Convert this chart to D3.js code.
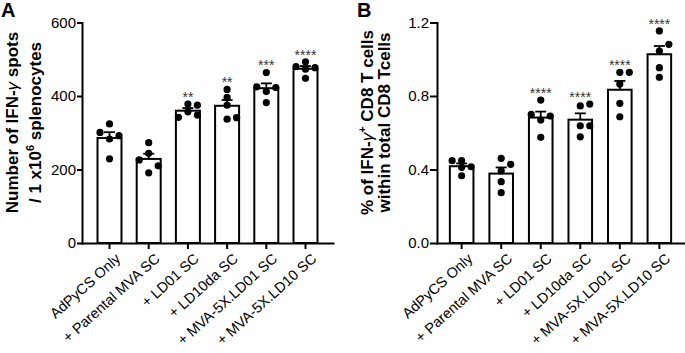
<!DOCTYPE html>
<html>
<head>
<meta charset="utf-8">
<script src="https://cdn.jsdelivr.net/npm/d3@7"></script>
<style>
body { margin: 0; background: #fff; }
text { font-family: "Liberation Sans", Arial, sans-serif; }
</style>
</head>
<body>
<div id="chart-area"></div>
<script>
// groups on the x axis (same for both panels)
var groups = ["AdPyCS Only", "+ Parental MVA SC", "+ LD01 SC", "+ LD10da SC",
              "+ MVA-5X.LD01 SC", "+ MVA-5X.LD10 SC"];

// A: IFN-g spots per 1e6 splenocytes, one value per mouse
var spotsA = [
    [229, 283, 292, 301, 324],
    [191, 210, 244, 226, 273],
    [357, 348, 342, 378, 375],
    [337, 341, 375, 396, 418],
    [382, 412, 423, 425, 464],
    [448, 473, 477, 480, 493]
];

// B: % IFN-g+ CD8 T cells, one value per mouse
var pctB = [
    [0.366, 0.412, 0.415, 0.448, 0.448],
    [0.274, 0.334, 0.392, 0.428, 0.461],
    [0.575, 0.669, 0.691, 0.700, 0.778],
    [0.578, 0.638, 0.638, 0.746, 0.756],
    [0.687, 0.760, 0.865, 0.929, 0.929],
    [0.902, 0.954, 1.045, 1.081, 1.154]
];

var sigA = ["", "", "**", "**", "***", "****"];
var sigB = ["", "", "****", "****", "****", "****"];

var ticksA = [0, 200, 400, 600];
var ticksB = [0, 0.4, 0.8, 1.2];

var width = 685, height = 353;

var svg = d3.select("#chart-area").append("svg")
    .attr("width", width)
    .attr("height", height);

// place the dots of one group side by side when they would overlap
function swarm(vals, y, gap, T) {
    var placed = [];
    return vals.map(function(v) {
        var py = y(v), slots = [0, 1, -1], best = 0, bestD = -1;
        for (var i = 0; i < slots.length; i++) {
            var same = placed.filter((p) => p.s === slots[i]);
            var d = same.length ? d3.min(same, (p) => Math.abs(p.y - py)) : Infinity;
            if (d >= T) { best = slots[i]; break; }
            if (d > bestD) { bestD = d; best = slots[i]; }
        }
        placed.push({ s: best, y: py });
        return { v: v, dx: best * gap };
    });
}

function panel(opt) {
    var g = svg.append("g");
    var x0 = opt.range[0], bottom = 243, top = 22.5;

    var x = d3.scaleBand()
        .domain(groups)
        .range(opt.range)
        .paddingInner(opt.pi)
        .paddingOuter(opt.po);

    var y = d3.scaleLinear()
        .domain([0, opt.max])
        .range([bottom, top]);

    var bw = x.bandwidth();

    var stats = opt.values.map((vals, i) => {
        var m = d3.mean(vals);
        return {
            name: groups[i],
            mean: m,
            sem: d3.deviation(vals) / Math.sqrt(vals.length),
            dots: swarm(vals, y, 9.5, 7),
            sig: opt.sig[i]
        };
    });

    // bars
    g.selectAll("rect")
        .data(stats)
        .enter()
        .append("rect")
            .attr("x", (d) => x(d.name) + 1)
            .attr("y", (d) => y(d.mean))
            .attr("width", bw - 2)
            .attr("height", (d) => bottom - y(d.mean))
            .attr("fill", "#fff")
            .attr("stroke", "#000")
            .attr("stroke-width", 2);

    // mean + SEM
    var err = g.selectAll(".err")
        .data(stats)
        .enter()
        .append("g")
            .attr("class", "err")
            .attr("stroke", "#000")
            .attr("stroke-width", 1.8);
    err.append("line")
        .attr("x1", (d) => x(d.name) + bw / 2)
        .attr("x2", (d) => x(d.name) + bw / 2)
        .attr("y1", (d) => y(d.mean))
        .attr("y2", (d) => y(d.mean + d.sem));
    err.append("line")
        .attr("x1", (d) => x(d.name) + bw / 2 - 5.5)
        .attr("x2", (d) => x(d.name) + bw / 2 + 5.5)
        .attr("y1", (d) => y(d.mean + d.sem))
        .attr("y2", (d) => y(d.mean + d.sem));

    // individual mice
    stats.forEach((s) => {
        g.selectAll(null)
            .data(s.dots)
            .enter()
            .append("circle")
                .attr("cx", (d) => x(s.name) + bw / 2 + d.dx)
                .attr("cy", (d) => y(d.v))
                .attr("r", 3.6)
                .attr("fill", "#000");
    });

    // significance stars
    g.selectAll(".sig")
        .data(stats)
        .enter()
        .append("text")
            .attr("class", "sig")
            .attr("x", (d) => x(d.name) + bw / 2)
            .attr("y", (d) => y(d3.max(d.dots, (p) => p.v)) - 2)
            .attr("text-anchor", "middle")
            .attr("font-size", "14px")
            .attr("fill", "#333")
            .text((d) => d.sig);

    // y Axis
    var yAxisCall = d3.axisLeft(y)
        .tickValues(opt.ticks)
        .tickSize(opt.tick)
        .tickSizeOuter(0)
        .tickPadding(2)
        .tickFormat(opt.fmt);
    var ya = g.append("g")
        .attr("transform", "translate(" + x0 + ",0)")
        .call(yAxisCall);
    ya.selectAll("text").attr("font-size", "15px").attr("fill", "#000");

    // x Axis
    var xAxisCall = d3.axisBottom(x)
        .tickSize(5)
        .tickSizeOuter(0)
        .tickFormat("");
    var xa = g.append("g")
        .attr("transform", "translate(0," + bottom + ")")
        .call(xAxisCall);

    [ya, xa].forEach((a) => {
        a.selectAll("path, line")
            .attr("stroke", "#000")
            .attr("stroke-width", 2)
            .attr("stroke-linecap", "square");
    });

    // x Labels
    g.selectAll(".xl")
        .data(groups)
        .enter()
        .append("text")
            .attr("class", "xl")
            .attr("transform", (d) => "translate(" + (x(d) + bw / 2 + 12) + "," + (bottom + 17) + ") rotate(-42)")
            .attr("text-anchor", "end")
            .attr("font-size", "14.5px")
            .text((d) => d);

    // y Labels (two lines, pieces with italic / superscript)
    opt.title.forEach((line, i) => {
        var t = g.append("text")
            .attr("transform", "translate(" + opt.titleX[i] + "," + 122.5 + ") rotate(-90)")
            .attr("text-anchor", "middle")
            .attr("font-size", "17px")
            .attr("font-weight", "bold");
        line.forEach((p) => {
            var ts = t.append("tspan").text(p.t);
            if (p.it) ts.attr("font-style", "italic").attr("font-weight", "normal");
            if (p.sup) ts.attr("font-size", "11px").attr("dy", "-7");
            if (p.down) ts.attr("dy", "7");
        });
    });

    // panel letter
    g.append("text")
        .attr("x", opt.letterX)
        .attr("y", 17)
        .attr("font-size", "20px")
        .attr("font-weight", "bold")
        .text(opt.letter);
}

panel({
    values: spotsA, sig: sigA, ticks: ticksA, max: 600,
    fmt: d3.format("d"), tick: 4,
    range: [82, 333], pi: 0.337, po: 0.37,
    title: [
        [{ t: "Number of IFN-" }, { t: "\u03b3", it: true }, { t: " spots" }],
        [{ t: "/ 1 x10" }, { t: "6", sup: true }, { t: " splenocytes", down: true }]
    ],
    titleX: [18, 41],
    letter: "A", letterX: 1
});

panel({
    values: pctB, sig: sigB, ticks: ticksB, max: 1.2,
    fmt: d3.format(".1f"), tick: 6,
    range: [437, 684], pi: 0.353, po: 0.3,
    title: [
        [{ t: "% of IFN-" }, { t: "\u03b3", it: true }, { t: "+", sup: true }, { t: " CD8 T cells", down: true }],
        [{ t: "within total CD8 Tcells" }]
    ],
    titleX: [373, 390],
    letter: "B", letterX: 357
});
</script>
</body>
</html>
